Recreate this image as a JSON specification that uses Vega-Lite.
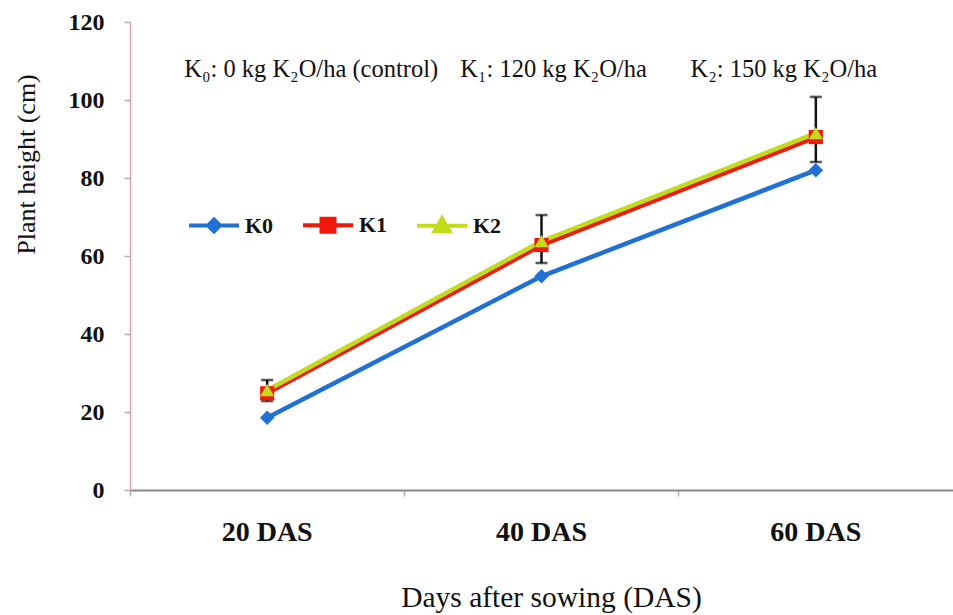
{
  "$schema": "https://vega.github.io/schema/vega-lite/v6.json",
  "autosize": {"type": "none"},
  "width": 823,
  "height": 468,
  "padding": {"left": 130, "top": 22, "right": 0, "bottom": 125},
  "background": "#ffffff",
  "config": {
    "view": {"stroke": null},
    "font": "Liberation Serif"
  },
  "datasets": {
    "series": [
      {"das": "20 DAS", "trt": "K0", "height": 18.5},
      {"das": "40 DAS", "trt": "K0", "height": 54.8},
      {"das": "60 DAS", "trt": "K0", "height": 82.0},
      {"das": "20 DAS", "trt": "K1", "height": 24.8},
      {"das": "40 DAS", "trt": "K1", "height": 62.8},
      {"das": "60 DAS", "trt": "K1", "height": 90.5},
      {"das": "20 DAS", "trt": "K2", "height": 25.6},
      {"das": "40 DAS", "trt": "K2", "height": 63.8},
      {"das": "60 DAS", "trt": "K2", "height": 91.5}
    ],
    "err": [
      {"das": "20 DAS", "lo": 22.8, "hi": 28.2},
      {"das": "40 DAS", "lo": 58.2, "hi": 70.5},
      {"das": "60 DAS", "lo": 84.1, "hi": 100.8}
    ],
    "notes": [
      {"id": "a", "das": "20 DAS", "level": 107.7, "note": "K₀: 0 kg K₂O/ha (control)"},
      {"id": "b", "das": "40 DAS", "level": 107.7, "note": "K₁: 120 kg K₂O/ha"},
      {"id": "c", "das": "60 DAS", "level": 107.7, "note": "K₂: 150 kg K₂O/ha"}
    ]
  },
  "encoding": {
    "x": {
      "field": "das",
      "type": "nominal",
      "scale": {"type": "band", "domain": ["20 DAS", "40 DAS", "60 DAS"], "paddingInner": 0, "paddingOuter": 0},
      "axis": {
        "title": "Days after  sowing (DAS)",
        "labelAngle": 0,
        "bandPosition": 0,
        "domainColor": "#8a8a8a",
        "domainWidth": 2,
        "tickColor": "#b0b0b0",
        "tickSize": 6,
        "tickWidth": 1.5,
        "labelFont": "Liberation Serif",
        "labelFontSize": 28,
        "labelFontWeight": "bold",
        "labelColor": "#111111",
        "labelPadding": 22,
        "titleFont": "Liberation Serif",
        "titleFontSize": 29.5,
        "titleFontWeight": "normal",
        "titleColor": "#111111",
        "titleX": 421,
        "titleY": 107,
        "titleBaseline": "middle",
        "titleAlign": "center"
      }
    }
  },
  "layer": [
    {
      "data": {"name": "err"},
      "mark": {"type": "rule", "color": "#111111", "strokeWidth": 2.5},
      "encoding": {
        "y": {"field": "lo", "type": "quantitative"},
        "y2": {"field": "hi"}
      }
    },
    {
      "data": {"name": "err"},
      "mark": {"type": "tick", "color": "#111111", "thickness": 2.5, "size": 12, "orient": "horizontal"},
      "encoding": {
        "y": {"field": "hi", "type": "quantitative"}
      }
    },
    {
      "data": {"name": "err"},
      "mark": {"type": "tick", "color": "#111111", "thickness": 2.5, "size": 12, "orient": "horizontal"},
      "encoding": {
        "y": {"field": "lo", "type": "quantitative"}
      }
    },
    {
      "data": {"name": "series"},
      "mark": {"type": "line", "strokeWidth": 4.5},
      "encoding": {
        "y": {
          "field": "height",
          "type": "quantitative",
          "scale": {"domain": [0, 120], "nice": false},
          "axis": {
            "title": "Plant height (cm)",
            "values": [0, 20, 40, 60, 80, 100, 120],
            "grid": false,
            "domainColor": "#e0a3b0",
            "domainWidth": 1.5,
            "tickColor": "#b0b0b0",
            "tickSize": 6,
            "tickWidth": 1.5,
            "labelFont": "Liberation Serif",
            "labelFontSize": 24,
            "labelFontWeight": "bold",
            "labelColor": "#111111",
            "labelPadding": 20,
            "titleFont": "Liberation Serif",
            "titleFontSize": 26,
            "titleFontWeight": "normal",
            "titleColor": "#111111",
            "titleX": -104,
            "titleY": 142,
            "titleBaseline": "middle",
            "titleAlign": "center"
          }
        },
        "color": {
          "field": "trt",
          "type": "nominal",
          "scale": {"domain": ["K0", "K1", "K2"], "range": ["#2170d4", "#f01808", "#c2dc1a"]},
          "legend": {
            "title": null,
            "orient": "none",
            "direction": "horizontal",
            "legendX": 57,
            "legendY": 176,
            "padding": 0,
            "symbolSize": 2500,
            "labelFont": "Liberation Serif",
            "labelFontSize": 22,
            "labelFontWeight": "bold",
            "labelColor": "#111111",
            "labelOffset": 4,
            "columnPadding": 21,
            "encode": {
              "symbols": {
                "update": {
                  "shape": {"signal": "datum.value === 'K0' ? 'M-1,0H1M0,-0.24L0.24,0L0,0.24L-0.24,0Z' : datum.value === 'K1' ? 'M-1,0H1M-0.26,-0.26H0.26V0.26H-0.26Z' : 'M-1,0H1M0,-0.3L0.3,0.22H-0.3Z'"},
                  "fill": {"signal": "scale('color', datum.value)"},
                  "stroke": {"signal": "scale('color', datum.value)"},
                  "strokeWidth": {"value": 4},
                  "opacity": {"value": 1}
                }
              }
            }
          }
        }
      }
    },
    {
      "data": {"name": "series"},
      "transform": [{"filter": "datum.trt === 'K0'"}],
      "mark": {"type": "point", "filled": true, "size": 210, "opacity": 1, "shape": "diamond"},
      "encoding": {
        "y": {"field": "height", "type": "quantitative"},
        "color": {"field": "trt", "type": "nominal"}
      }
    },
    {
      "data": {"name": "series"},
      "transform": [{"filter": "datum.trt === 'K1'"}],
      "mark": {"type": "point", "filled": true, "size": 200, "opacity": 1, "shape": "square"},
      "encoding": {
        "y": {"field": "height", "type": "quantitative"},
        "color": {"field": "trt", "type": "nominal"}
      }
    },
    {
      "data": {"name": "series"},
      "transform": [{"filter": "datum.trt === 'K2'"}],
      "mark": {"type": "point", "filled": true, "size": 200, "opacity": 1, "shape": "triangle-up"},
      "encoding": {
        "y": {"field": "height", "type": "quantitative"},
        "color": {"field": "trt", "type": "nominal"}
      }
    },
    {
      "data": {"name": "notes"},
      "transform": [{"filter": "datum.id === 'a'"}],
      "mark": {"type": "text", "font": "Liberation Serif", "fontSize": 24.5, "color": "#111111", "align": "center", "baseline": "middle", "dx": 44},
      "encoding": {
        "y": {"field": "level", "type": "quantitative"},
        "text": {"field": "note"}
      }
    },
    {
      "data": {"name": "notes"},
      "transform": [{"filter": "datum.id === 'b'"}],
      "mark": {"type": "text", "font": "Liberation Serif", "fontSize": 24.5, "color": "#111111", "align": "center", "baseline": "middle", "dx": 12},
      "encoding": {
        "y": {"field": "level", "type": "quantitative"},
        "text": {"field": "note"}
      }
    },
    {
      "data": {"name": "notes"},
      "transform": [{"filter": "datum.id === 'c'"}],
      "mark": {"type": "text", "font": "Liberation Serif", "fontSize": 24.5, "color": "#111111", "align": "center", "baseline": "middle", "dx": -32},
      "encoding": {
        "y": {"field": "level", "type": "quantitative"},
        "text": {"field": "note"}
      }
    }
  ]
}
